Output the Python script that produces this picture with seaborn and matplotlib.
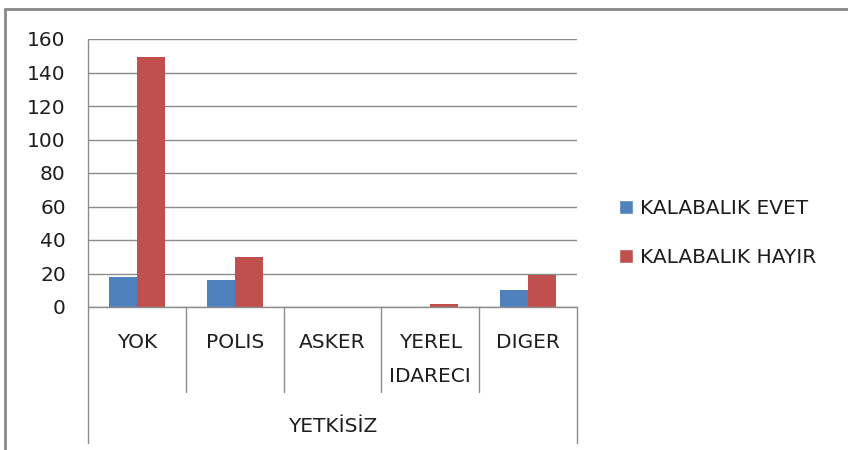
import matplotlib
matplotlib.use("Agg")
import matplotlib.pyplot as plt
import seaborn as sns
import pandas as pd
from matplotlib.lines import Line2D
from matplotlib.patches import Patch

categories = ["YOK", "POLIS", "ASKER", "YEREL\nIDARECI", "DIGER"]
group_label = "YETKİSİZ"
series_names = ["KALABALIK EVET", "KALABALIK HAYIR"]
evet = [18, 16, 0, 0, 10]
hayir = [149, 30, 0, 2, 19]
yticks = [0, 20, 40, 60, 80, 100, 120, 140, 160]
colors = ["#4F81BD", "#C0504D"]

sns.set_theme(style="white")
plt.rcParams["font.family"] = ["DejaVu Sans"]
FS = 14.5
TXT = "#1E1E1E"

df = pd.DataFrame({
    "cat": categories * 2,
    "val": evet + hayir,
    "series": [series_names[0]] * len(categories) + [series_names[1]] * len(categories),
})

fig = plt.figure(figsize=(8.48, 4.5), dpi=100)
ax = fig.add_axes([88 / 848, 1 - 307 / 450, (577 - 88) / 848, (307 - 39) / 450])

sns.barplot(data=df, x="cat", y="val", hue="series", palette=colors, ax=ax,
            width=0.57, gap=0, saturation=1, legend=False, edgecolor="none")

grid_c = "#8C8C8C"
ax.set_ylim(0, 160)
ax.set_yticks(yticks)
ax.set_xlim(-0.5, len(categories) - 0.5)
ax.yaxis.grid(True, color=grid_c, linewidth=1)
ax.set_axisbelow(True)
for s in ["top", "right", "bottom", "left"]:
    ax.spines[s].set_visible(False)
ax.tick_params(axis="y", length=7, color=grid_c, width=1, labelsize=FS, colors=TXT, pad=9)
ax.tick_params(axis="x", length=0)
ax.set_xticks([])
ax.set_xlabel("")
ax.set_ylabel("")

tr = ax.get_xaxis_transform()
H = 307 - 39
y_bottom_group = (307 - 443) / H
y_bottom_cat = (307 - 392) / H
ax.plot([-0.5, -0.5], [1, y_bottom_group], transform=tr, color=grid_c, lw=1, clip_on=False)
ax.plot([len(categories) - 0.5] * 2, [0, y_bottom_group], transform=tr, color=grid_c, lw=1, clip_on=False)
ax.plot([-0.5, len(categories) - 0.5], [0, 0], transform=tr, color=grid_c, lw=1, clip_on=False)
for i in range(1, len(categories)):
    ax.plot([i - 0.5] * 2, [0, y_bottom_cat], transform=tr, color=grid_c, lw=1, clip_on=False)

y_lab = (307 - 333) / H
for i, c in enumerate(categories):
    ax.text(i, y_lab, c, transform=tr, ha="center", va="top", fontsize=FS,
            color=TXT, linespacing=2.0)
ax.text((len(categories) - 1) / 2, (307 - 427) / H, group_label, transform=tr,
        ha="center", va="center", fontsize=FS, color=TXT)

# outer chart border
fig.add_artist(Line2D([5 / 848, 5 / 848], [0, 1 - 9 / 450], transform=fig.transFigure, color="#8A8A8A", lw=2))
fig.add_artist(Line2D([5 / 848, 1], [1 - 9 / 450, 1 - 9 / 450], transform=fig.transFigure, color="#8A8A8A", lw=2))

handles = [Patch(facecolor=colors[0]), Patch(facecolor=colors[1])]
fig.legend(handles, series_names, loc="center left", bbox_to_anchor=(601 / 848, 1 - 233 / 450),
           frameon=False, fontsize=FS, handlelength=0.7, handleheight=0.7, handletextpad=0.35,
           labelspacing=1.45, labelcolor=TXT)

fig.savefig("out.png", dpi=100)
